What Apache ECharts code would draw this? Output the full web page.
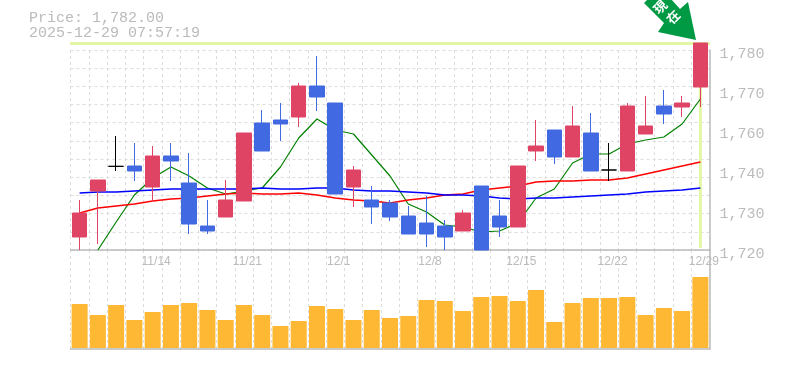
<!DOCTYPE html>
<html>
<head>
<meta charset="utf-8">
<style>
html, body { margin: 0; padding: 0; background: #fff; }
#chart { width: 785px; height: 370px; }
</style>
<script src="https://cdn.jsdelivr.net/npm/echarts@6/dist/echarts.min.js"></script>
</head>
<body>
<div id="chart"></div>
<script>
var dates = ['11/10','11/11','11/12','11/13','11/14','11/17','11/18','11/19','11/20','11/21',
    '11/25','11/26','11/27','11/28','12/1','12/2','12/3','12/4','12/5','12/8',
    '12/9','12/10','12/11','12/12','12/15','12/16','12/17','12/18','12/19','12/22',
    '12/23','12/24','12/25','12/26','12/29'];
// open, close, low, high
var ohlc = [
    [1723.9,1731.1,1720,1735],[1737.7,1741,1721.8,1741],[1745.1,1745.1,1743.7,1754.2],[1745.2,1743.7,1740.7,1752.1],
    [1738.9,1748.2,1734.7,1751.2],[1748.2,1746.7,1740.7,1752.1],[1740.1,1727.8,1724.8,1749.1],[1727.2,1725.7,1724.8,1735],
    [1729.9,1735,1729.9,1741],[1734.7,1755.1,1734.7,1755.1],[1758.1,1749.7,1749.7,1762],[1759,1757.8,1752.7,1764.1],
    [1759.9,1769.2,1756.9,1770.1],[1769.2,1765.9,1761.7,1778.2],[1764.1,1736.8,1736.8,1764.1],[1738.9,1744,1732.9,1745.2],
    [1735,1732.9,1727.8,1739.2],[1734.1,1729.9,1728.7,1735],[1730.2,1724.8,1724.8,1733.2],[1728.1,1724.8,1720.9,1736.2],
    [1727.2,1723.9,1720,1729],[1725.7,1731.1,1725.7,1732],[1739.2,1720,1720,1739.2],[1730.2,1726.9,1723.9,1735],
    [1726.9,1745.2,1726.9,1745.2],[1749.7,1751.2,1746.7,1759],[1756,1747.9,1745.8,1756],[1747.9,1757.2,1747.9,1763.2],
    [1755.1,1743.7,1743.7,1761.1],[1744,1744,1740.7,1752.1],[1743.7,1763.2,1743.7,1764.1],[1754.8,1757.2,1754.8,1766.2],
    [1763.2,1760.8,1757.8,1768],[1762.9,1764.1,1759.9,1766.2],[1768.9,1782.1,1762.9,1782.1]
];
var maShort = [null,1720,1728.4,1736.5,1741.6,1744.9,1742.2,1738.6,1736.8,1737.7,1738.6,1744.9,1753.6,1759.3,1756,1754.8,1748.5,1742.2,
    1733.8,1731.4,1727.5,1726.9,1725.4,1725.7,1728.1,1735.6,1738.3,1746.1,1748.8,1748.8,1751.8,1753,1753.9,1757.8,1765.3];
var maMiddle = [1731.1,1732.6,1733.2,1733.8,1734.7,1735.3,1735.6,1736.2,1736.8,1737.1,1736.8,1736.8,1737.1,1736.5,1735.6,1735,1734.7,1734.1,
    1735,1735.6,1736.5,1736.8,1738,1738.6,1739.2,1740.4,1740.7,1740.7,1741,1741,1741.6,1742.8,1744,1745.2,1746.4];
var maLong = [1737.1,1737.4,1737.4,1737.7,1738,1738.3,1738.3,1738.3,1738.3,1738.3,1738.6,1738.3,1738.3,1738.6,1738.6,1738,1737.7,1737.7,
    1737.4,1737.1,1736.5,1736.5,1736.2,1735.6,1735.3,1735.6,1735.6,1735.9,1736.2,1736.5,1736.8,1737.4,1737.7,1738,1738.6];
var volumes = [44,33,43,28,36,43,45,38,28,43,33,22,27,42,39,28,38,30,
    32,48,47,37,51,52,47,58,26,45,50,50,51,33,40,37,71];
var tickValues = [1780,1768,1756,1744,1732,1720];
var tickLabels = ['1,780','1,770','1,760','1,740','1,730','1,720'];
var lastPrice = 1782.1;
var headerText = 'Price: 1,782.00\n2025-12-29 07:57:19';

var chart = echarts.init(document.getElementById('chart'));

var GRAY = '#bbbbbb';
var gridDash = { color: '#dddddd', width: 1, type: [3, 3] };

function maSeries(data, color, width, z) {
    return {
        type: 'line',
        data: data,
        symbol: 'none',
        clip: false,
        silent: true,
        z: z,
        lineStyle: { color: color, width: width }
    };
}

function arrowGlyph(text, x, y) {
    return {
        type: 'text',
        x: x,
        y: y,
        rotation: Math.PI / 4,
        z: 11,
        style: {
            text: text,
            fill: '#fff',
            font: 'bold 13px "Noto Sans CJK JP"',
            align: 'center',
            verticalAlign: 'middle'
        }
    };
}

chart.setOption({
    animation: false,
    backgroundColor: '#fff',
    title: {
        text: headerText,
        left: 29,
        top: 11,
        padding: 0,
        textStyle: {
            fontFamily: 'Liberation Mono',
            fontSize: 15,
            fontWeight: 'normal',
            lineHeight: 15,
            color: GRAY
        }
    },
    grid: [
        { left: 70.5, width: 639, top: 50, height: 200 },
        { left: 70.5, width: 639, top: 250, height: 99 }
    ],
    xAxis: [
        {
            type: 'category',
            gridIndex: 0,
            data: dates,
            axisLine: { lineStyle: { color: GRAY, width: 1.5 } },
            axisTick: { show: false },
            splitLine: { show: true, interval: 0, lineStyle: gridDash },
            axisLabel: {
                interval: function (i) { return i % 5 === 4; },
                fontFamily: 'Liberation Sans',
                fontSize: 12,
                color: GRAY,
                margin: 6,
                padding: [0, 0, 0, 7],
                hideOverlap: false
            }
        },
        {
            type: 'category',
            gridIndex: 1,
            data: dates,
            axisLine: { onZero: false, lineStyle: { color: GRAY, width: 1.5 } },
            axisTick: { show: false },
            axisLabel: { show: false },
            splitLine: { show: true, interval: 0, lineStyle: gridDash }
        }
    ],
    yAxis: [
        {
            type: 'value',
            gridIndex: 0,
            position: 'right',
            min: 1720,
            max: 1780,
            axisLine: { show: true, lineStyle: { color: GRAY, width: 1.5 } },
            axisTick: { show: false },
            splitLine: { show: false },
            axisLabel: {
                customValues: tickValues,
                formatter: function (v) { return tickLabels[tickValues.indexOf(v)]; },
                fontFamily: 'Liberation Mono',
                fontSize: 15,
                color: GRAY,
                margin: 10,
                // labels sit a little under their row, as in the source chart
                verticalAlign: 'top',
                lineHeight: 8
            }
        },
        {
            // only carries the horizontal dashed rows of the price panel
            type: 'value',
            gridIndex: 0,
            position: 'left',
            min: 0,
            max: 11,
            interval: 1,
            axisLine: { show: false },
            axisTick: { show: false },
            axisLabel: { show: false },
            splitLine: { show: true, lineStyle: gridDash }
        },
        {
            type: 'value',
            gridIndex: 1,
            position: 'right',
            min: -1,
            max: 98,
            axisLine: { show: true, lineStyle: { color: GRAY, width: 1.5 } },
            axisTick: { show: false },
            axisLabel: { show: false },
            splitLine: { show: false }
        }
    ],
    series: [
        maSeries(maShort, '#008000', 1.2, 2),
        maSeries(maMiddle, '#ff0000', 1.5, 2),
        maSeries(maLong, '#0000ff', 1.5, 2),
        {
            type: 'candlestick',
            data: ohlc,
            clip: false,
            barWidth: 15,
            z: 3,
            itemStyle: {
                color: '#e04464',
                color0: '#4169e1',
                borderColor: '#e04464',
                borderColor0: '#4169e1',
                borderColorDoji: '#000000',
                borderWidth: 1
            }
        },
        {
            type: 'bar',
            xAxisIndex: 1,
            yAxisIndex: 2,
            data: volumes,
            barWidth: 16,
            itemStyle: { color: '#ffb833' },
            z: 3
        }
    ]
});

// current price cross: lastPrice sits above the axis max, so a markLine would get dropped
var lastX = chart.convertToPixel({ xAxisIndex: 0 }, dates[dates.length - 1]);
var lastY = chart.convertToPixel({ yAxisIndex: 0 }, lastPrice);
var crossStyle = { stroke: '#e3f6a5', lineWidth: 3 };

chart.setOption({
    graphic: [
        {
            type: 'line',
            z: 1,
            silent: true,
            shape: { x1: 70, y1: lastY + 0.5, x2: 710, y2: lastY + 0.5 },
            style: crossStyle
        },
        {
            type: 'line',
            z: 1,
            silent: true,
            shape: { x1: lastX, y1: lastY, x2: lastX, y2: 248 },
            style: crossStyle
        },
        {
            type: 'polygon',
            z: 10,
            shape: { points: [[644, 3], [648, -1], [671, -1], [680, 9], [688, 2], [696, 40], [658, 32], [664, 23]] },
            style: { fill: '#009944' }
        },
        arrowGlyph('現', 660, 7),
        arrowGlyph('在', 673, 17)
    ]
});
</script>
</body>
</html>
